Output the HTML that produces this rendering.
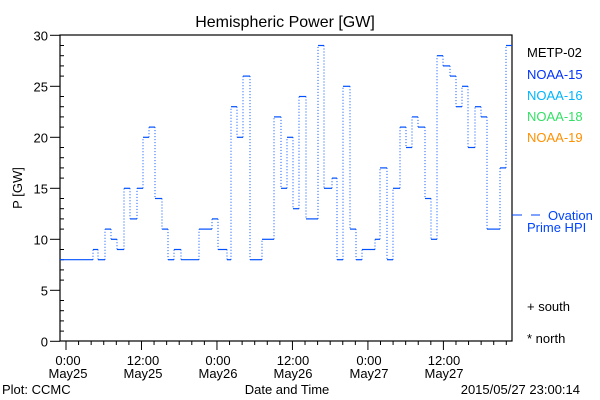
<!DOCTYPE html>
<html><head><meta charset="utf-8"><style>
html,body{margin:0;padding:0;background:#fff;}
svg{display:block;font-family:"Liberation Sans",sans-serif;}
</style></head><body>
<svg id="s" width="600" height="400" viewBox="0 0 600 400" xmlns="http://www.w3.org/2000/svg">
<rect width="600" height="400" fill="#fff"/>
<text x="285" y="27" font-size="16" text-anchor="middle">Hemispheric Power [GW]</text>
<rect x="60" y="35" width="452" height="306" fill="none" stroke="#000" stroke-width="1.2"/>
<g id="ax" stroke="#000" stroke-width="1"></g>
<g font-size="13" text-anchor="end" id="yl"></g>
<text transform="translate(22,188) rotate(-90)" font-size="13" text-anchor="middle">P [GW]</text>
<g font-size="13" text-anchor="middle">
<text x="68" y="365">0:00</text><text x="68" y="378">May25</text>
<text x="143" y="365">12:00</text><text x="143" y="378">May25</text>
<text x="218" y="365">0:00</text><text x="218" y="378">May26</text>
<text x="293" y="365">12:00</text><text x="293" y="378">May26</text>
<text x="369" y="365">0:00</text><text x="369" y="378">May27</text>
<text x="444" y="365">12:00</text><text x="444" y="378">May27</text>
<text x="287" y="394">Date and Time</text>
</g>
<text x="2" y="394" font-size="13">Plot: CCMC</text>
<text x="580" y="394" font-size="13" text-anchor="end">2015/05/27 23:00:14</text>
<g font-size="13">
<text x="527" y="57" fill="#000">METP-02</text>
<text x="527" y="79" fill="#0033ff">NOAA-15</text>
<text x="527" y="100" fill="#00b4ff">NOAA-16</text>
<text x="527" y="121" fill="#33e066">NOAA-18</text>
<text x="527" y="142" fill="#ff9000">NOAA-19</text>
<text x="548" y="220" fill="#0044ff">Ovation</text>
<text x="527" y="232" fill="#0044ff">Prime HPI</text>
<text x="527" y="311" fill="#000">+ south</text>
<text x="527" y="343" fill="#000">* north</text>
</g>
<line x1="512" y1="215" x2="522" y2="215" stroke="#0044ff"/>
<line x1="531" y1="215" x2="540" y2="215" stroke="#0044ff"/>
<g id="d"></g>
</svg>
<script>
var NS="http://www.w3.org/2000/svg";
function el(p,t,a){var e=document.createElementNS(NS,t);for(var k in a)e.setAttribute(k,a[k]);document.getElementById(p).appendChild(e);return e;}
function Y(v){return 341.3-v*10.2;}
for(var v=0;v<=30;v++){var y=Y(v);if(v%5==0){el("ax","line",{x1:50,y1:y,x2:60,y2:y});var t=el("yl","text",{x:48,y:y+5});t.textContent=v;}else el("ax","line",{x1:60,y1:y,x2:64,y2:y});}
for(var h=0;h<=70;h+=2){var x=66+h*6.29;if(x>512)break;el("ax","line",{x1:x,y1:341,x2:x,y2:h%12==0?350:345});}
var D=[[60,93,8],[93,98,9],[98,105,8],[105,111,11],[111,117,10],[117,124,9],[124,130,15],[130,137,12],[137,143,15],[143,149,20],[149,155,21],[155,162,14],[162,168,11],[168,174,8],[174,181,9],[181,199,8],[199,212,11],[212,218,12],[218,227,9],[227,231,8],[231,237,23],[237,243,20],[243,250,26],[250,262,8],[262,274,10],[274,281,22],[281,287,15],[287,293,20],[293,299,13],[299,306,24],[306,318,12],[318,324,29],[324,332,15],[332,337,16],[337,343,8],[343,350,25],[350,356,11],[356,362,8],[362,375,9],[375,380,10],[380,387,17],[387,393,8],[393,400,15],[400,406,21],[406,412,19],[412,418,22],[418,425,21],[425,431,14],[431,437,10],[437,443,28],[443,450,27],[450,456,26],[456,462,23],[462,468,25],[468,475,19],[475,481,23],[481,487,22],[487,500,11],[500,506,17],[506,512,29]];
for(var i=0;i<D.length;i++){var s=D[i];el("d","line",{x1:s[0],y1:Y(s[2]),x2:s[1],y2:Y(s[2]),stroke:"#0050ff","stroke-width":1.2});
if(i>0){el("d","line",{x1:s[0],y1:Y(D[i-1][2]),x2:s[0],y2:Y(s[2]),stroke:"#0050ff","stroke-width":1,"stroke-dasharray":"1 2"});}}
</script>
</body></html>
